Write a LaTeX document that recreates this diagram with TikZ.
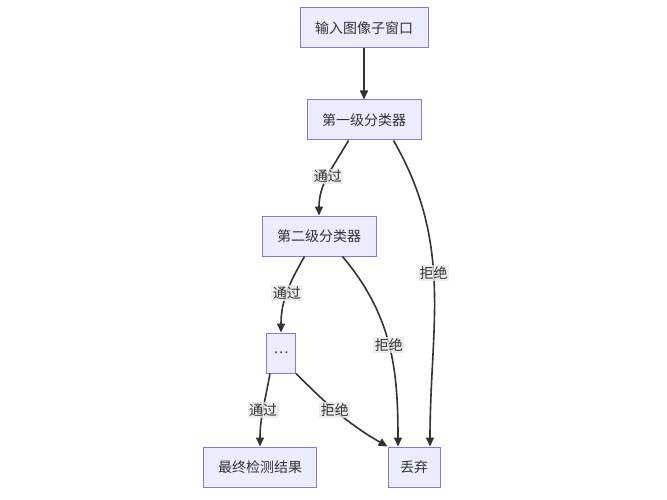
\documentclass[tikz,border=0pt]{standalone}
\usepackage{fontspec}
\newfontfamily\cjk{Noto Sans CJK SC}
\usetikzlibrary{arrows.meta}
\definecolor{nfill}{HTML}{ECECFF}
\definecolor{nline}{HTML}{9370DB}
\definecolor{edge}{HTML}{333333}
\definecolor{lbg}{HTML}{E8E8E8}
\begin{document}
\begin{tikzpicture}[x=1pt,y=-1pt,
 box/.style={draw=nline,fill=nfill,line width=1pt,minimum height=40pt,inner xsep=12pt,font=\cjk\fontsize{14}{16}\selectfont,text=edge},
 e/.style={draw=edge,line width=1.6pt,-{Triangle[length=9pt,width=8pt]}},
 lab/.style={fill=lbg,fill opacity=0.8,text opacity=1,inner sep=1.5pt,font=\cjk\fontsize{14}{16}\selectfont,text=edge}]
\useasboundingbox (0,0) rectangle (667,500);
\node[box,minimum width=128pt] (in) at (364,28) {输入图像子窗口};
\node[box,minimum width=114pt] (c1) at (364,120) {第一级分类器};
\node[box,minimum width=114pt] (c2) at (319,236) {第二级分类器};
\node[box,minimum width=29pt,inner xsep=3pt] (d) at (281,353) {…};
\node[box,minimum width=113pt] (f) at (260,467) {最终检测结果};
\node[box,minimum width=52pt,inner xsep=6pt] (r) at (414,467) {丢弃};
\draw[e] (in) -- (c1);
\draw[e] (c1.south west)++(42pt,0) coordinate (a1) (a1) to[out=-120,in=90] node[lab,pos=0.5]{通过} (c2.north);
\draw[e] (c1.south east)++(-28pt,0) coordinate (a2) (a2) to[out=-60,in=90] node[lab,pos=0.45]{拒绝} ([xshift=16pt]r.north);
\draw[e] (c2.south west)++(43pt,0) coordinate (b1) (b1) to[out=-120,in=90] node[lab,pos=0.5]{通过} (d.north);
\draw[e] (c2.south east)++(-34pt,0) coordinate (b2) (b2) to[out=-50,in=90] node[lab,pos=0.5]{拒绝} ([xshift=-16pt]r.north);
\draw[e] (d.south west)++(4pt,0) coordinate (g1) (g1) to[out=-100,in=90] node[lab,pos=0.5]{通过} (f.north);
\draw[e] (d.south east) to[out=-45,in=150] node[lab,pos=0.45]{拒绝} (r.north west);
\end{tikzpicture}
\end{document}
